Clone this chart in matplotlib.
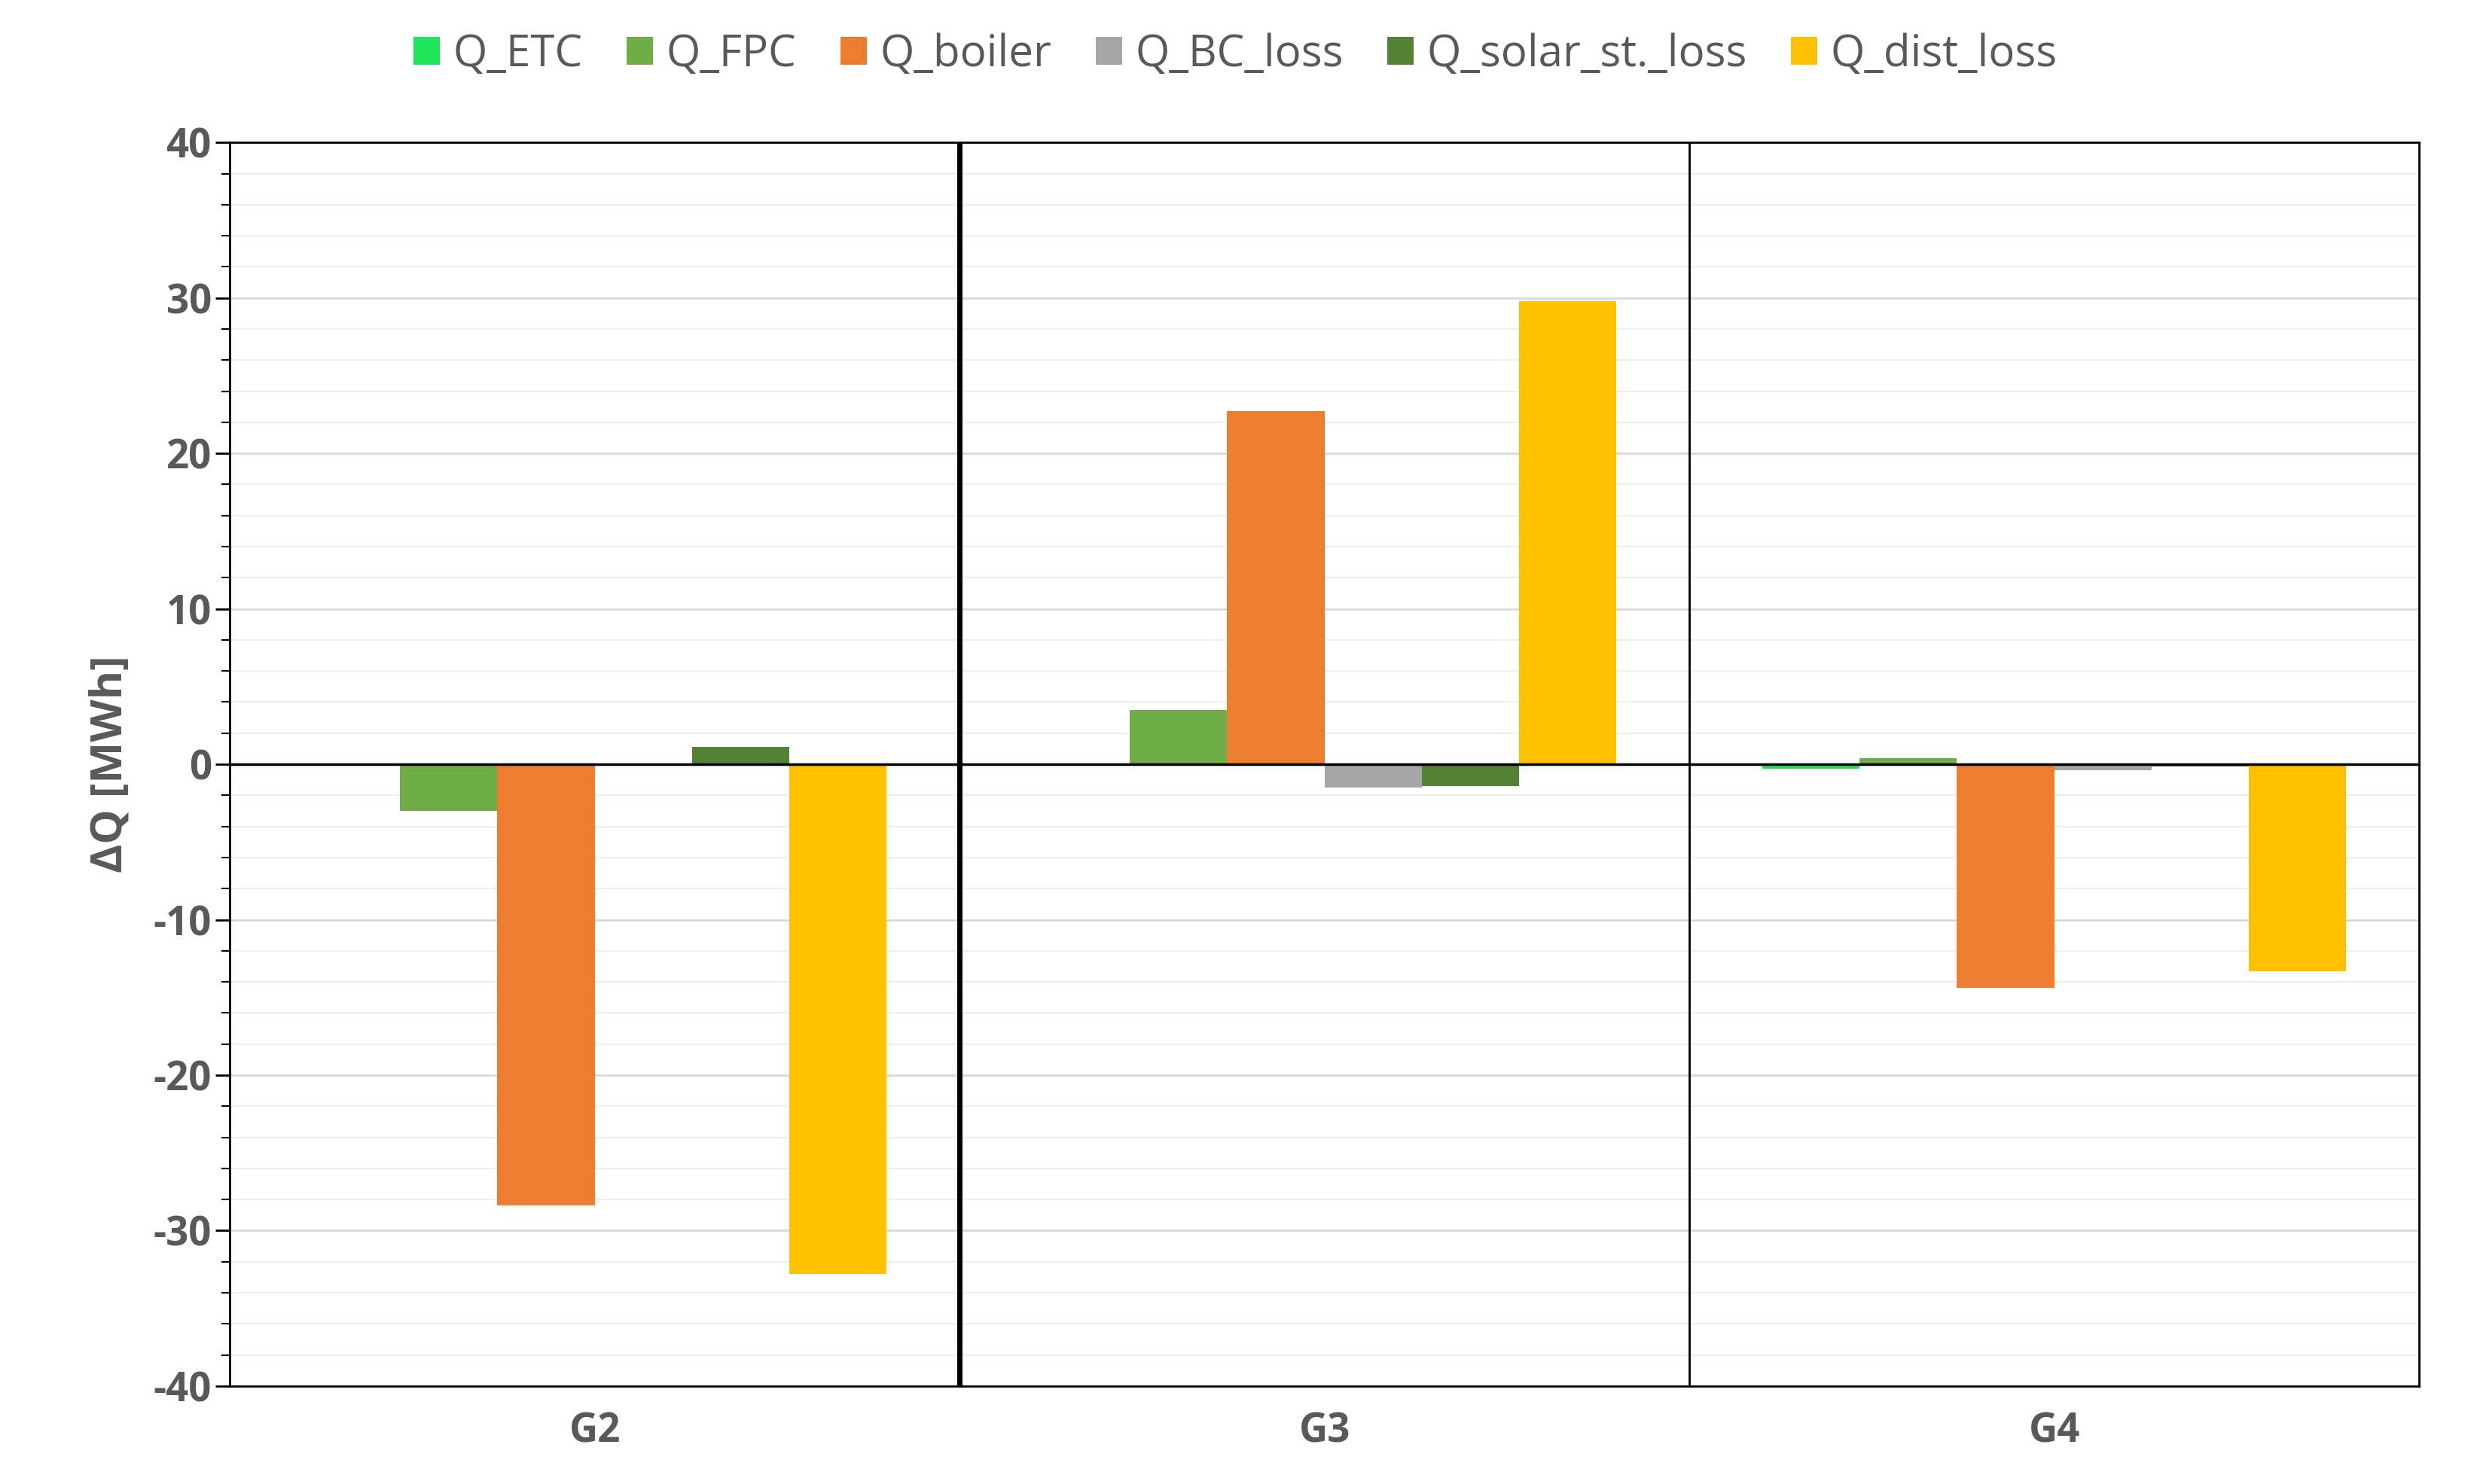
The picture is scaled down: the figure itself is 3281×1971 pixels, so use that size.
import numpy as np
import matplotlib
matplotlib.use("Agg")
import matplotlib.pyplot as plt
from matplotlib.ticker import MultipleLocator

plt.rcParams['font.family'] = ['Open Sans', 'DejaVu Sans']
plt.rcParams['axes.unicode_minus'] = False

groups = ["G2", "G3", "G4"]
series = ["Q_ETC", "Q_FPC", "Q_boiler", "Q_BC_loss", "Q_solar_st._loss", "Q_dist_loss"]
colors = ["#1FE55A", "#70AD47", "#ED7D31", "#A5A5A5", "#548235", "#FFC000"]
values = {
    "Q_ETC":            [0.0, 0.0, -0.3],
    "Q_FPC":            [-3.0, 3.5, 0.4],
    "Q_boiler":         [-28.4, 22.7, -14.4],
    "Q_BC_loss":        [0.0, -1.5, -0.4],
    "Q_solar_st._loss": [1.1, -1.4, -0.15],
    "Q_dist_loss":      [-32.8, 29.8, -13.3],
}

fig = plt.figure(figsize=(32.81, 19.71), dpi=100)
ax = fig.add_axes([0.093, 0.066, 0.886, 0.838])

x = np.arange(len(groups))
w = 0.8 / len(series)
for i, (name, c) in enumerate(zip(series, colors)):
    ax.bar(x - 0.4 + w * (i + 0.5), values[name], w, color=c, label=name, zorder=3)

ax.set_xlim(-0.5, 2.5)
ax.set_ylim(-40, 40)
ax.yaxis.set_major_locator(MultipleLocator(10))
ax.yaxis.set_minor_locator(MultipleLocator(2))
ax.grid(axis="y", which="minor", color="#EEEEEE", lw=1.5, zorder=0)
ax.grid(axis="y", which="major", color="#D9D9D9", lw=2, zorder=0)
ax.axhline(0, color="black", lw=2.5, zorder=4)
ax.axvline(0.5, color="black", lw=5, zorder=4)
ax.axvline(1.5, color="black", lw=2, zorder=4)

ax.set_xticks(x)
ax.set_xticklabels(groups)
ax.tick_params(axis="x", length=0, pad=24)
ax.tick_params(axis="y", which="major", length=14, width=2, direction="out")
ax.tick_params(axis="y", which="minor", length=8, width=1.5, direction="out")
ax.tick_params(labelsize=38, labelcolor="#595959")
for lab in ax.get_xticklabels() + ax.get_yticklabels():
    lab.set_fontweight("bold")
for s in ax.spines.values():
    s.set_linewidth(2)

ax.set_ylabel("ΔQ [MWh]", fontsize=42, fontweight="bold", color="#595959", labelpad=20)

fig.legend(loc="center", bbox_to_anchor=(0.5, 0.963), ncol=6, frameon=False,
           fontsize=42, labelcolor="#595959", handlelength=0.6, handleheight=0.6,
           handletextpad=0.3, columnspacing=1.0)

fig.savefig("out.png", dpi=100)
